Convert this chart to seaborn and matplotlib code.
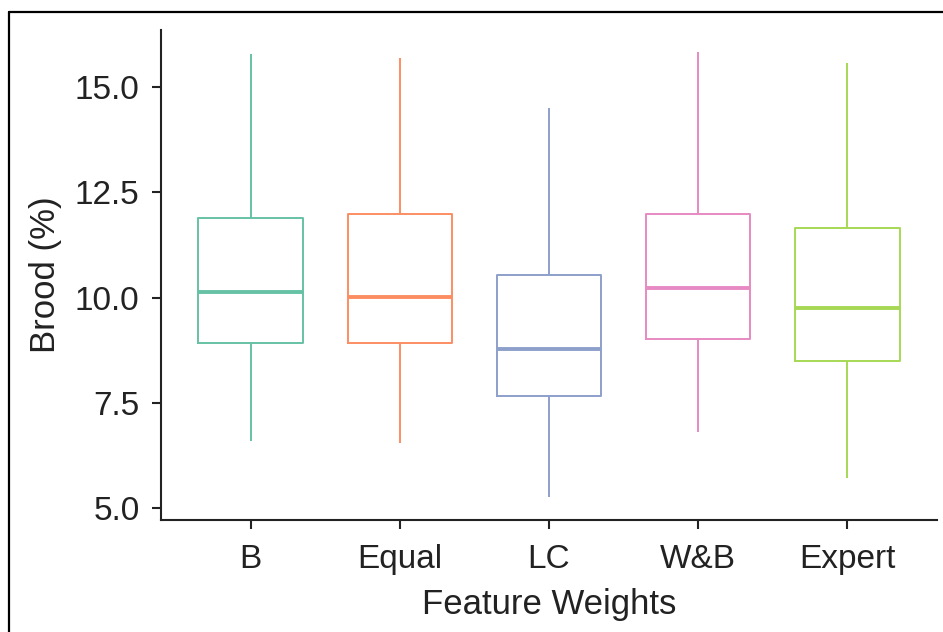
import numpy as np
import pandas as pd
import seaborn as sns
import matplotlib.pyplot as plt
from matplotlib.lines import Line2D
from matplotlib.ticker import FormatStrFormatter

# five-number summaries
groups = ['B', 'Equal', 'LC', 'W&B', 'Expert']
lows = [6.59, 6.54, 5.26, 6.81, 5.71]
q1s = [8.92, 8.92, 7.66, 9.01, 8.49]
medians = [10.13, 10.01, 8.78, 10.23, 9.75]
q3s = [11.89, 11.98, 10.53, 11.98, 11.65]
highs = [15.78, 15.69, 14.50, 15.83, 15.57]

rows = []
for g, a, b, c, d, e in zip(groups, lows, q1s, medians, q3s, highs):
    for v in (a, b, c, d, e):
        rows.append({'Feature Weights': g, 'Brood (%)': v})
df = pd.DataFrame(rows)

sns.set_style('ticks')
plt.rcParams['font.family'] = ['Liberation Sans', 'DejaVu Sans']

fig = plt.figure(figsize=(9.43, 6.32), dpi=100)
ax = fig.add_axes([0.1707, 0.1772, 0.8229, 0.7753])

sns.boxplot(data=df, x='Feature Weights', y='Brood (%)', hue='Feature Weights',
            order=groups, hue_order=groups, palette='Set2', fill=False,
            width=0.7, linewidth=1.4, whis=np.inf, legend=False,
            medianprops={'linewidth': 2.8},
            capprops={'visible': False}, ax=ax)

ax.set_xlim(-0.6, 4.6)
ax.set_ylim(4.715, 16.36)
ax.set_yticks([5.0, 7.5, 10.0, 12.5, 15.0])
ax.yaxis.set_major_formatter(FormatStrFormatter('%.1f'))
sns.despine(ax=ax)
for s in ('left', 'bottom'):
    ax.spines[s].set_linewidth(1.5)
    ax.spines[s].set_color('#222222')
ax.tick_params(length=6.5, width=1.5, color='#222222', labelsize=24,
               labelcolor='#222222')
ax.tick_params(axis='x', pad=11)
ax.tick_params(axis='y', pad=9)
ax.set_xlabel('Feature Weights', fontsize=25, color='#222222', labelpad=9)
ax.set_ylabel('Brood (%)', fontsize=25, color='#222222', labelpad=9)

# outer frame (top and left edges)
fx = 9 / 943
fy = 1 - 12 / 632
fig.add_artist(Line2D([fx, 1], [fy, fy], transform=fig.transFigure, color='black', lw=1.6))
fig.add_artist(Line2D([fx, fx], [0, fy], transform=fig.transFigure, color='black', lw=1.6))

fig.savefig('out.png', dpi=100)
